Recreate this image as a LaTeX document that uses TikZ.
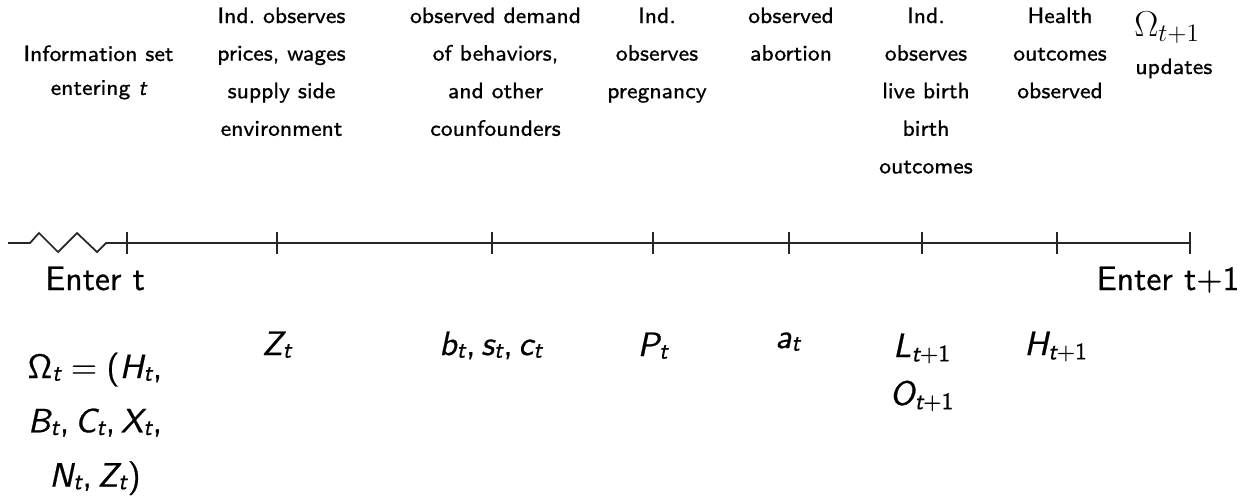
\RequirePackage{fix-cm}
\documentclass[tikz,border=0pt]{standalone}
\DeclareFontFamily{TU}{sfeight}{}
\DeclareFontShape{TU}{sfeight}{m}{n}{<-> "[lmsans8-regular]:mapping=tex-text;embolden=0.6"}{}
\DeclareFontFamily{TU}{sften}{}
\DeclareFontShape{TU}{sften}{m}{n}{<-> "[lmsans10-regular]:mapping=tex-text;embolden=0.6"}{}
\DeclareFontFamily{TU}{sfmath}{}
\DeclareFontShape{TU}{sfmath}{m}{n}{<-> "[lmsans10-regular]:embolden=0.6"}{}
\DeclareFontShape{TU}{sfmath}{m}{sl}{<-> "[lmsans10-oblique]:embolden=0.6"}{}
\DeclareMathVersion{sans}
\SetSymbolFont{operators}{sans}{TU}{sfmath}{m}{n}
\SetSymbolFont{letters}{sans}{TU}{sfmath}{m}{sl}
\mathcode`\,="602C
\Umathchardef\sOmega="0 "0 "03A9
\newcommand\topfont{\fontencoding{TU}\fontfamily{sfeight}\fontseries{m}\fontshape{n}\fontsize{12.7}{21.4}\selectfont\mathversion{sans}}
\newcommand\botfont{\fontencoding{TU}\fontfamily{sften}\fontseries{m}\fontshape{n}\fontsize{19.2}{30.9}\selectfont\mathversion{sans}}
\newcommand\tstack[1]{\begin{tabular}[t]{@{}c@{}}#1\end{tabular}}
\newcommand\subfix{\fontdimen16\textfont2=1.5pt\relax}
\tikzset{
  tl/.style={line width=1pt, draw=black!85, line join=miter},
  toptext/.style={font=\topfont, inner sep=0pt, anchor=base},
  bottext/.style={font=\botfont, inner sep=0pt, anchor=base},
}
\begin{document}
\begin{tikzpicture}[x=0.02cm, y=-0.02cm]
\useasboundingbox (0,0) rectangle (1256,501);
% timeline coordinates
\coordinate (s) at (8,243);
\coordinate (t0) at (127,243);
\coordinate (t1) at (277,243);
\coordinate (t2) at (492,243);
\coordinate (t3) at (653,243);
\coordinate (t4) at (789,243);
\coordinate (t5) at (922,243);
\coordinate (t6) at (1057,243);
\coordinate (t7) at (1190,243);
\draw[tl] (s) -- ++(22,0) -- ++(9,-10) -- ++(19,19) -- ++(19,-19) -- ++(20,19) -- ++(9,-9) -- (t0);
\draw[tl] (t0) -- (t7);
\foreach \n in {0,...,7} \draw[tl] (t\n) ++(0,-11) -- ++(0,22);
% top texts
\node[toptext, font={\topfont\fontsize{12.7}{19.3}\selectfont}] (info) at (98.5,61) {\tstack{Information set\\ entering $t$}};
\node[toptext] (obs1) at (281.5,23) {\tstack{Ind.\ observes\\ prices, wages\\ supply side\\ environment}};
\node[toptext] (obs2) at (495.5,23) {\tstack{observed demand\\ of behaviors,\\ and other\\ counfounders}};
\node[toptext] (obs3) at (657,23) {\tstack{Ind.\\ observes\\ pregnancy}};
\node[toptext] (obs4) at (791,23) {\tstack{observed\\ abortion}};
\node[toptext] (obs5) at (926,23) {\tstack{Ind.\\ observes\\ live birth\\ birth\\ outcomes}};
\node[toptext] (obs6) at (1060,23) {\tstack{Health\\ outcomes\\ observed}};
\node[inner sep=0pt, anchor=base west, font=\fontsize{20.5}{24}\selectfont] (omg1) at (1134,36) {$\Omega_{t+1}$};
\node[toptext, anchor=base west] (upd) at (1135,74) {updates};
% bottom texts
\node[bottext] (enter0) at (95,290) {Enter t};
\node[bottext] (enter1) at (1168,290) {Enter t+1};
\node[bottext] (omg0) at (95,378) {\tstack{$\subfix\sOmega_t=(H_t,$\\ $\subfix B_t,C_t,X_t,$\\ $\subfix N_t,Z_t)$}};
\node[bottext] (zt) at (277,355) {$\subfix Z_t$};
\node[bottext] (bsc) at (491,355) {$\subfix b_t,s_t,c_t$};
\node[bottext] (pt) at (653,356) {$\subfix P_t$};
\node[bottext] (at) at (788,348) {$\subfix a_t$};
\node[bottext, font={\botfont\fontsize{19.2}{27.2}\selectfont}] (lo) at (922,357) {\tstack{$\subfix L_{t+1}$\\ $\subfix O_{t+1}$}};
\node[bottext] (ht) at (1056,355) {$\subfix H_{t+1}$};
\end{tikzpicture}
\end{document}
